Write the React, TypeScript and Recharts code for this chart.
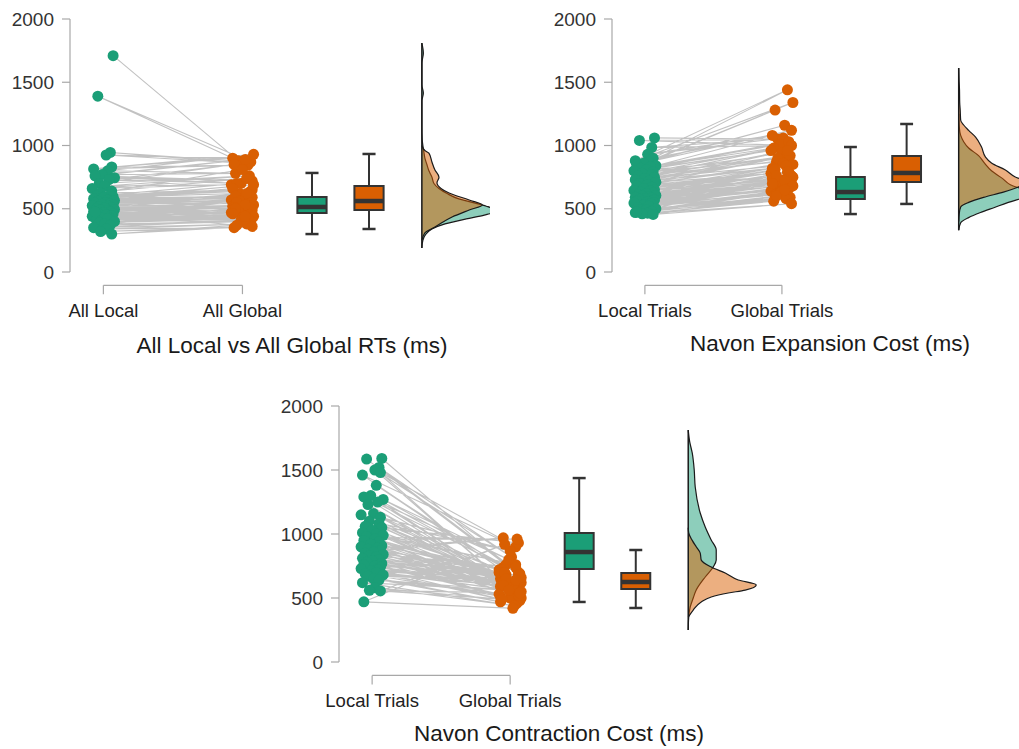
import React from 'react';
import {
  ComposedChart,
  XAxis,
  YAxis,
  Scatter,
  Line,
  Area,
  ReferenceArea,
  ReferenceLine,
} from 'recharts';

// ---------------- data ----------------
// Panel 1: All Local vs All Global RTs (ms) — paired participant values
const P1_LOCAL = [1710, 1390, 945, 925, 830, 815, 800, 770, 760, 745, 730, 700, 680, 660, 640, 625, 610, 600, 595, 590, 580, 570, 565, 560, 550, 545, 540, 535, 530, 525, 520, 515, 510, 505, 500, 495, 490, 485, 480, 475, 470, 465, 460, 455, 450, 445, 440, 430, 425, 420, 410, 400, 390, 380, 370, 350, 340, 320, 300, 475];
const P1_GLOBAL = [880, 870, 860, 900, 845, 930, 780, 890, 720, 700, 850, 760, 690, 740, 810, 650, 700, 640, 620, 690, 600, 660, 580, 610, 540, 590, 560, 620, 570, 520, 545, 600, 500, 530, 560, 480, 520, 505, 470, 550, 490, 510, 460, 495, 470, 530, 450, 480, 440, 500, 430, 420, 460, 400, 410, 380, 350, 360, 370, 440];
const P1_BOX_LOCAL = [300, 466, 514, 593, 783];
const P1_BOX_GLOBAL = [340, 490, 561, 680, 933];
const P1_DENS_LOCAL = [[1810, 0], [1730, 1.5], [1650, 0], [1480, 0], [1415, 1.5], [1350, 0], [1150, 0], [1050, 0.3], [1000, 1], [950, 2], [900, 3], [850, 5], [800, 7], [750, 10], [700, 12], [660, 17], [620, 25], [580, 36], [550, 50], [520, 64], [500, 71], [480, 73], [450, 62], [420, 44], [380, 23], [340, 10], [300, 4], [250, 1], [190, 0]];
const P1_DENS_GLOBAL = [[1000, 0], [960, 3], [940, 7], [870, 10], [806, 13], [750, 17], [703, 15], [660, 19], [624, 27], [569, 47], [530, 60], [490, 47], [435, 30], [356, 13], [310, 3], [250, 0]];
const P1_LABELS = ['All Local', 'All Global'];
const P1_TITLE = 'All Local vs All Global RTs (ms)';

// Panel 2: Navon Expansion Cost (ms)
const P2_LOCAL = [1060, 1040, 985, 930, 900, 880, 870, 860, 850, 840, 830, 820, 810, 800, 790, 780, 770, 760, 750, 740, 730, 720, 710, 700, 690, 680, 670, 660, 650, 645, 640, 632, 625, 620, 610, 605, 600, 595, 590, 585, 580, 575, 570, 560, 555, 550, 545, 540, 530, 520, 510, 500, 495, 490, 480, 470, 465, 460, 455, 475];
const P2_GLOBAL = [1050, 1000, 1060, 1080, 1440, 1340, 1280, 1160, 1120, 1010, 980, 1030, 960, 900, 940, 1000, 870, 920, 880, 850, 960, 820, 900, 790, 860, 760, 800, 840, 780, 730, 770, 810, 720, 750, 700, 790, 740, 680, 710, 760, 700, 650, 730, 690, 640, 720, 660, 620, 680, 610, 640, 600, 700, 590, 630, 580, 560, 540, 600, 650];
const P2_BOX_LOCAL = [458, 577, 632, 751, 988];
const P2_BOX_GLOBAL = [538, 711, 783, 917, 1170];
const P2_DENS_LOCAL = [[1250, 0], [1150, 0.5], [1080, 2], [1030, 5], [980, 10], [920, 20], [860, 26], [800, 33], [740, 44], [690, 52], [650, 66], [620, 74], [590, 66], [550, 50], [510, 36], [470, 22], [430, 10], [390, 2], [330, 0]];
const P2_DENS_GLOBAL = [[1612, 0], [1520, 0.3], [1440, 0.8], [1340, 1], [1280, 1.5], [1200, 2], [1162, 5], [1120, 10], [1067, 17], [988, 23], [909, 27], [862, 33], [806, 47], [751, 57], [711, 70], [672, 60], [632, 45], [590, 25], [550, 10], [514, 2], [460, 0.5], [400, 0]];
const P2_LABELS = ['Local Trials', 'Global Trials'];
const P2_TITLE = 'Navon Expansion Cost (ms)';

// Panel 3: Navon Contraction Cost (ms)
const P3_LOCAL = [1590, 1585, 1520, 1500, 1480, 1460, 1380, 1300, 1290, 1270, 1250, 1230, 1160, 1150, 1130, 1100, 1080, 1060, 1050, 1030, 1010, 1000, 990, 980, 960, 950, 940, 920, 910, 900, 890, 880, 870, 860, 850, 840, 830, 820, 810, 800, 790, 780, 770, 760, 750, 740, 730, 720, 710, 700, 690, 680, 670, 650, 640, 620, 580, 560, 555, 470];
const P3_GLOBAL = [760, 700, 820, 650, 900, 620, 740, 580, 690, 800, 640, 530, 720, 600, 870, 560, 670, 930, 610, 500, 760, 590, 680, 960, 540, 650, 720, 580, 700, 520, 630, 970, 560, 660, 600, 740, 510, 640, 590, 700, 480, 620, 570, 680, 530, 610, 460, 650, 550, 600, 500, 640, 470, 520, 560, 440, 490, 540, 920, 420];
const P3_BOX_LOCAL = [469, 727, 859, 1008, 1437];
const P3_BOX_GLOBAL = [422, 570, 625, 695, 875];
const P3_DENS_LOCAL = [[1812, 0], [1720, 1.5], [1633, 4], [1500, 6], [1367, 7], [1164, 12], [1055, 17], [953, 23], [875, 28], [797, 28], [742, 25], [664, 17], [562, 8], [500, 5], [430, 2], [350, 0.5], [250, 0]];
const P3_DENS_GLOBAL = [[1050, 0], [1008, 0.5], [950, 4], [900, 8], [851, 12], [797, 13], [742, 23], [695, 37], [641, 50], [602, 68], [562, 57], [539, 40], [508, 23], [469, 13], [406, 5], [350, 0]];
const P3_LABELS = ['Local Trials', 'Global Trials'];
const P3_TITLE = 'Navon Contraction Cost (ms)';

// hand-typed horizontal jitter for the raw points
const JIT_A = [0.07, -0.04, 0.05, 0.02, 0.06, -0.07, 0.03, -0.01, -0.06, 0.08, 0.04, -0.03, 0.01, -0.08, 0.06, -0.02, 0.05, -0.05, 0.07, 0.0, -0.07, 0.03, 0.08, -0.04, 0.02, -0.06, 0.05, -0.01, 0.07, -0.08, 0.04, -0.03, 0.06, 0.01, -0.05, 0.08, -0.02, 0.03, -0.07, 0.05, 0.0, -0.04, 0.07, -0.06, 0.02, 0.06, -0.08, 0.04, -0.01, 0.03, -0.05, 0.08, -0.03, 0.01, 0.05, -0.07, 0.02, -0.02, 0.06, -0.06];
const JIT_B = [-0.03, 0.06, 0.01, -0.07, 0.04, 0.08, -0.05, 0.02, 0.07, -0.01, -0.06, 0.05, -0.08, 0.03, 0.0, 0.07, -0.04, 0.06, -0.02, 0.08, 0.04, -0.07, -0.03, 0.05, 0.01, 0.07, -0.06, 0.03, -0.08, 0.02, 0.06, -0.05, 0.0, 0.08, -0.02, 0.04, -0.07, 0.05, 0.01, -0.04, 0.07, -0.06, 0.03, 0.06, -0.08, 0.02, 0.05, -0.03, 0.08, -0.05, 0.0, 0.04, -0.07, 0.06, -0.01, 0.03, -0.06, 0.07, -0.04, 0.02];

const Y_TICKS = [0, 500, 1000, 1500, 2000];

// ---------------- layout / style ----------------
const GREEN = '#1b9e77';
const ORANGE = '#d95f02';
const DARK = '#333333';
const AXIS_GRAY = '#a8a8a8';
const FONT = "'Liberation Sans', Arial, Helvetica, sans-serif";

const X_MIN = 0.76;
const X_LOCAL = 1;
const X_GLOBAL = 2;
const X_BOX_LOCAL = 2.5;
const X_BOX_GLOBAL = 2.91;
const X_DENS = 3.29;
const BOX_HALF = 0.105;
const CAP_HALF = 0.047;
const DENS_PX_PER_UNIT = 138;
const BRACKET_Y = -105;
const BRACKET_TICK_Y = -175;

type PanelProps = {
  local: number[];
  global: number[];
  boxLocal: number[];
  boxGlobal: number[];
  densLocal: number[][];
  densGlobal: number[][];
  labels: string[];
  xMax: number;
  width: number;
  height: number;
  marginTop: number;
  marginRight: number;
  yAxisWidth: number;
};

const makeDot = (color: string) => (p: any) =>
  p.cx == null || p.cy == null ? <g /> : <circle cx={p.cx} cy={p.cy} r={5.5} fill={color} />;

function boxElements(prefix: string, x: number, s: number[], color: string) {
  const line = { stroke: DARK, strokeWidth: 2, ifOverflow: 'visible' as const };
  return [
    <ReferenceLine key={prefix + 'wu'} segment={[{ x, y: s[3] }, { x, y: s[4] }]} {...line} />,
    <ReferenceLine key={prefix + 'wl'} segment={[{ x, y: s[0] }, { x, y: s[1] }]} {...line} />,
    <ReferenceLine key={prefix + 'cu'} segment={[{ x: x - CAP_HALF, y: s[4] }, { x: x + CAP_HALF, y: s[4] }]} {...line} strokeWidth={2.5} />,
    <ReferenceLine key={prefix + 'cl'} segment={[{ x: x - CAP_HALF, y: s[0] }, { x: x + CAP_HALF, y: s[0] }]} {...line} strokeWidth={2.5} />,
    <ReferenceArea
      key={prefix + 'box'}
      x1={x - BOX_HALF}
      x2={x + BOX_HALF}
      y1={s[1]}
      y2={s[3]}
      fill={color}
      fillOpacity={1}
      stroke={DARK}
      strokeWidth={2}
      ifOverflow="visible"
    />,
    <ReferenceLine key={prefix + 'med'} segment={[{ x: x - BOX_HALF, y: s[2] }, { x: x + BOX_HALF, y: s[2] }]} stroke={DARK} strokeWidth={4.5} ifOverflow="visible" />,
  ];
}

function Panel(props: PanelProps) {
  const { local, global, boxLocal, boxGlobal, densLocal, densGlobal, labels, xMax, width, height, marginTop, marginRight, yAxisWidth } = props;
  const localPts = local.map((v, i) => ({ x: X_LOCAL + JIT_A[i % JIT_A.length], y: v }));
  const globalPts = global.map((v, i) => ({ x: X_GLOBAL + JIT_B[i % JIT_B.length], y: v }));
  const links: { x: number | null; y: number | null }[] = [];
  localPts.forEach((p, i) => {
    links.push(p, globalPts[i], { x: null, y: null });
  });
  const dL = densLocal.map(([v, d]) => ({ y: v, x: X_DENS + d / DENS_PX_PER_UNIT }));
  const dG = densGlobal.map(([v, d]) => ({ y: v, x: X_DENS + d / DENS_PX_PER_UNIT }));
  const allDensY = [...densLocal, ...densGlobal].map((r) => r[0]);
  const densTop = Math.max(...allDensY);
  const densBottom = Math.min(...allDensY);

  return (
    <ComposedChart
      layout="vertical"
      width={width}
      height={height}
      margin={{ top: marginTop, right: marginRight, bottom: 0, left: 0 }}
    >
      <XAxis
        type="number"
        dataKey="x"
        domain={[X_MIN, xMax]}
        allowDataOverflow
        ticks={[X_LOCAL, X_GLOBAL]}
        interval={0}
        tickFormatter={(v: number) => (v === X_LOCAL ? labels[0] : labels[1])}
        tickLine={false}
        axisLine={false}
        tickSize={26}
        tickMargin={6}
        height={55}
        tick={{ fill: '#222', fontSize: 18.5, fontFamily: FONT }}
      />
      <YAxis
        type="number"
        dataKey="y"
        domain={[0, 2000]}
        reversed
        allowDataOverflow
        ticks={Y_TICKS}
        interval={0}
        width={yAxisWidth}
        axisLine={{ stroke: AXIS_GRAY, strokeWidth: 1.2 }}
        tickLine={{ stroke: AXIS_GRAY, strokeWidth: 1.2 }}
        tickSize={8}
        tickMargin={8}
        tick={{ fill: '#333', fontSize: 19, fontFamily: FONT }}
      />
      <ReferenceLine segment={[{ x: X_LOCAL, y: BRACKET_Y }, { x: X_GLOBAL, y: BRACKET_Y }]} stroke={AXIS_GRAY} strokeWidth={1.2} ifOverflow="visible" />
      <ReferenceLine segment={[{ x: X_LOCAL, y: BRACKET_Y }, { x: X_LOCAL, y: BRACKET_TICK_Y }]} stroke={AXIS_GRAY} strokeWidth={1.2} ifOverflow="visible" />
      <ReferenceLine segment={[{ x: X_GLOBAL, y: BRACKET_Y }, { x: X_GLOBAL, y: BRACKET_TICK_Y }]} stroke={AXIS_GRAY} strokeWidth={1.2} ifOverflow="visible" />

      <Line
        data={links}
        dataKey="x"
        stroke="#c2c2c2"
        strokeWidth={1.1}
        dot={false}
        activeDot={false}
        connectNulls={false}
        isAnimationActive={false}
      />
      <Scatter data={localPts} shape={makeDot(GREEN)} isAnimationActive={false} />
      <Scatter data={globalPts} shape={makeDot(ORANGE)} isAnimationActive={false} />

      {boxElements('l', X_BOX_LOCAL, boxLocal, GREEN)}
      {boxElements('g', X_BOX_GLOBAL, boxGlobal, ORANGE)}

      <Area
        data={dL}
        dataKey="x"
        type="monotone"
        baseValue={X_DENS}
        fill={GREEN}
        fillOpacity={0.5}
        stroke="#1a1a1a"
        strokeWidth={1.2}
        dot={false}
        activeDot={false}
        isAnimationActive={false}
      />
      <Area
        data={dG}
        dataKey="x"
        type="monotone"
        baseValue={X_DENS}
        fill={ORANGE}
        fillOpacity={0.5}
        stroke="#1a1a1a"
        strokeWidth={1.2}
        dot={false}
        activeDot={false}
        isAnimationActive={false}
      />
      <ReferenceLine
        segment={[{ x: X_DENS, y: densBottom }, { x: X_DENS, y: densTop }]}
        stroke="#1a1a1a"
        strokeWidth={1.5}
        ifOverflow="visible"
      />
    </ComposedChart>
  );
}

const titleStyle = (cx: number, top: number): React.CSSProperties => ({
  position: 'absolute',
  left: cx - 250,
  top,
  width: 500,
  textAlign: 'center',
  fontSize: 22.5,
  lineHeight: '26px',
  color: '#1a1a1a',
  fontFamily: FONT,
  whiteSpace: 'nowrap',
});

export default function App() {
  return (
    <div
      style={{
        position: 'absolute',
        left: 0,
        top: 0,
        width: 1019,
        height: 749,
        background: '#ffffff',
        overflow: 'hidden',
        fontFamily: FONT,
      }}
    >
      <div style={{ position: 'absolute', left: 0, top: 0 }}>
        <Panel
          local={P1_LOCAL}
          global={P1_GLOBAL}
          boxLocal={P1_BOX_LOCAL}
          boxGlobal={P1_BOX_GLOBAL}
          densLocal={P1_DENS_LOCAL}
          densGlobal={P1_DENS_GLOBAL}
          labels={P1_LABELS}
          xMax={3.78}
          width={500}
          height={327}
          marginTop={19}
          marginRight={10}
          yAxisWidth={70}
        />
      </div>
      <div style={{ position: 'absolute', left: 540, top: 0 }}>
        <Panel
          local={P2_LOCAL}
          global={P2_GLOBAL}
          boxLocal={P2_BOX_LOCAL}
          boxGlobal={P2_BOX_GLOBAL}
          densLocal={P2_DENS_LOCAL}
          densGlobal={P2_DENS_GLOBAL}
          labels={P2_LABELS}
          xMax={3.73}
          width={479}
          height={327}
          marginTop={19}
          marginRight={0}
          yAxisWidth={72}
        />
      </div>
      <div style={{ position: 'absolute', left: 270, top: 390 }}>
        <Panel
          local={P3_LOCAL}
          global={P3_GLOBAL}
          boxLocal={P3_BOX_LOCAL}
          boxGlobal={P3_BOX_GLOBAL}
          densLocal={P3_DENS_LOCAL}
          densGlobal={P3_DENS_GLOBAL}
          labels={P3_LABELS}
          xMax={3.81}
          width={490}
          height={327}
          marginTop={16}
          marginRight={0}
          yAxisWidth={69}
        />
      </div>
      <div style={titleStyle(292, 333)}>{P1_TITLE}</div>
      <div style={titleStyle(830, 331)}>{P2_TITLE}</div>
      <div style={titleStyle(559, 721)}>{P3_TITLE}</div>
    </div>
  );
}
